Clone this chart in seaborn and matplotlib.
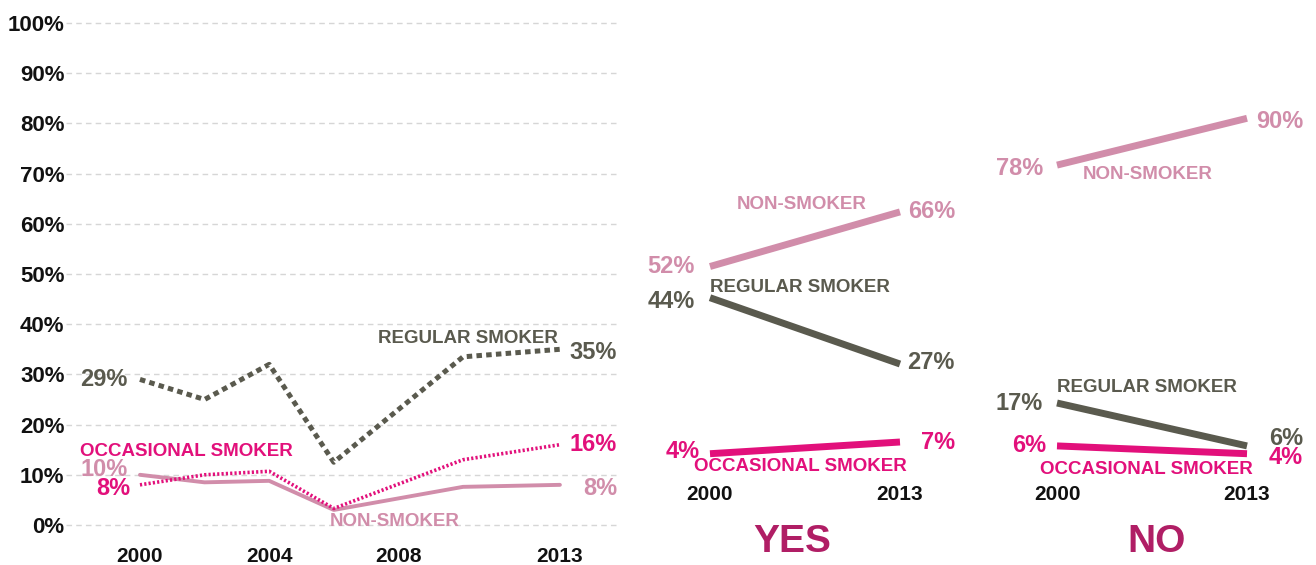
import matplotlib
matplotlib.use("Agg")
import matplotlib.pyplot as plt
import seaborn as sns
import pandas as pd

sns.set_theme(style="white")
plt.rcParams["font.family"] = ["Liberation Sans", "DejaVu Sans"]

# ---- data -------------------------------------------------------------
trend_years = [2000, 2002, 2004, 2006, 2010, 2013]
trend_regular = [29, 25, 32, 12.5, 33.5, 35]
trend_occasional = [8, 10, 10.7, 3.3, 13, 16]
trend_non = [10, 8.5, 8.8, 3, 7.6, 8]

slope_years = [2000, 2013]
yes_regular = [44, 27]
yes_occasional = [4, 7]
yes_non = [52, 66]
no_regular = [17, 6]
no_occasional = [6, 4]
no_non = [78, 90]

trend_xticks = [2000, 2004, 2008, 2013]
y_ticks = list(range(0, 101, 10))

# ---- style ------------------------------------------------------------
C_REG = "#5A5A4E"
C_OCC = "#E2107B"
C_NON = "#D18DAA"
C_TITLE = "#B01E65"
W, H = 1316, 565

fig = plt.figure(figsize=(W / 100, H / 100), dpi=100)


def add_axes_px(x0, y0, x1, y1):
    return fig.add_axes([x0 / W, 1 - y1 / H, (x1 - x0) / W, (y1 - y0) / H])


def series_frame(years, values):
    return pd.DataFrame({"year": years, "value": values})


def value_label(ax, x, y, text, color, dx, dy):
    ax.annotate(text, xy=(x, y), xytext=(dx, dy), textcoords="offset pixels",
                ha="right", va="center", fontsize=17, fontweight="bold",
                color=color, annotation_clip=False)


def name_label(ax, x, y, text, color, ha):
    ax.text(x, y, text, ha=ha, va="center", fontsize=13.5, fontweight="bold",
            color=color)


# ---- left: yearly trend ----------------------------------------------
ax = add_axes_px(66, 15, 620, 535)
ax.set_xlim(1997.71, 2014.86)
ax.set_ylim(-1.99, 101.59)

sns.lineplot(data=series_frame(trend_years, trend_regular), x="year", y="value",
             ax=ax, color=C_REG, lw=3.6, clip_on=False,
             solid_capstyle="butt").lines[-1].set_dashes((1.1, 0.85))
sns.lineplot(data=series_frame(trend_years, trend_non), x="year", y="value",
             ax=ax, color=C_NON, lw=2.8, clip_on=False)
occ = sns.lineplot(data=series_frame(trend_years, trend_occasional), x="year",
                   y="value", ax=ax, color=C_OCC, lw=2.6, clip_on=False)
occ.lines[-1].set_dashes((0.6, 0.6))

for yv in y_ticks:
    ax.axhline(yv, color="#D6D6D6", lw=1.0, ls=(0, (4, 3)), zorder=0)

ax.set_yticks(y_ticks)
ax.set_yticklabels([f"{v}%" for v in y_ticks])
ax.set_xticks(trend_xticks)
ax.set_xticklabels([str(v) for v in trend_xticks])
ax.tick_params(axis="y", length=0, pad=1, labelsize=16)
ax.tick_params(axis="x", length=0, pad=9, labelsize=15)
for lab in ax.get_xticklabels() + ax.get_yticklabels():
    lab.set_fontweight("bold")
    lab.set_color("#111111")
ax.set_xlabel("")
ax.set_ylabel("")
sns.despine(ax=ax, left=True, bottom=True)

value_label(ax, 2000, trend_regular[0], f"{trend_regular[0]}%", C_REG, -12, 0)
value_label(ax, 2013, trend_regular[-1], f"{trend_regular[-1]}%", C_REG, 57, -3)
value_label(ax, 2000, trend_non[0], f"{trend_non[0]}%", C_NON, -12, 5)
value_label(ax, 2000, trend_occasional[0], f"{trend_occasional[0]}%", C_OCC, -10, -4)
value_label(ax, 2013, trend_occasional[-1], f"{trend_occasional[-1]}%", C_OCC, 57, 0)
value_label(ax, 2013, trend_non[-1], f"{trend_non[-1]}%", C_NON, 57, -4)

name_label(ax, 2012.94, 37.25, "REGULAR SMOKER", C_REG, "right")
name_label(ax, 1998.14, 14.7, "OCCASIONAL SMOKER", C_OCC, "left")
name_label(ax, 2005.88, 0.6, "NON-SMOKER", C_NON, "left")


# ---- middle / right: 2000 vs 2013 slopes -----------------------------
def slope_panel(x0, x1, xlim, reg, occ_v, non, labels):
    a = add_axes_px(x0, 60, x1, 480)
    a.set_xlim(*xlim)
    a.set_ylim(-2.74, 104.95)
    for vals, col in ((non, C_NON), (reg, C_REG), (occ_v, C_OCC)):
        sns.lineplot(data=series_frame(slope_years, vals), x="year", y="value",
                     ax=a, color=col, lw=5, clip_on=False,
                     solid_capstyle="butt")
    a.set_yticks([])
    a.set_xticks(slope_years)
    a.set_xticklabels([str(v) for v in slope_years])
    a.tick_params(axis="x", length=0, pad=3.5, labelsize=15)
    for lab in a.get_xticklabels():
        lab.set_fontweight("bold")
        lab.set_color("#111111")
    a.set_xlabel("")
    a.set_ylabel("")
    sns.despine(ax=a, left=True, bottom=True)
    for (x, y, txt, col, dx, dy) in labels:
        value_label(a, x, y, txt, col, dx, dy)
    return a


yes_labels = [
    (2000, yes_non[0], f"{yes_non[0]}%", C_NON, -15, 0),
    (2000, yes_regular[0], f"{yes_regular[0]}%", C_REG, -15, -4),
    (2000, yes_occasional[0], f"{yes_occasional[0]}%", C_OCC, -10, 2),
    (2013, yes_non[1], f"{yes_non[1]}%", C_NON, 55, 0),
    (2013, yes_regular[1], f"{yes_regular[1]}%", C_REG, 55, 2),
    (2013, yes_occasional[1], f"{yes_occasional[1]}%", C_OCC, 55, 0),
]
ax_yes = slope_panel(650, 960, (1995.895, 2017.106),
                     yes_regular, yes_occasional, yes_non, yes_labels)
name_label(ax_yes, 2006.3, 67.8, "NON-SMOKER", C_NON, "center")
name_label(ax_yes, 2000.0, 46.7, "REGULAR SMOKER", C_REG, "left")
name_label(ax_yes, 2006.16, 0.6, "OCCASIONAL SMOKER", C_OCC, "center")

no_labels = [
    (2000, no_non[0], f"{no_non[0]}%", C_NON, -14, -3),
    (2000, no_regular[0], f"{no_regular[0]}%", C_REG, -14, 0),
    (2000, no_occasional[0], f"{no_occasional[0]}%", C_OCC, -11, 0),
    (2013, no_non[1], f"{no_non[1]}%", C_NON, 56, -3),
    (2013, no_regular[1], f"{no_regular[1]}%", C_REG, 56, 7),
    (2013, no_occasional[1], f"{no_occasional[1]}%", C_OCC, 56, -4),
]
ax_no = slope_panel(1000, 1316, (1996.1, 2017.72),
                    no_regular, no_occasional, no_non, no_labels)
name_label(ax_no, 2006.23, 75.7, "NON-SMOKER", C_NON, "center")
name_label(ax_no, 2000.0, 21.1, "REGULAR SMOKER", C_REG, "left")
name_label(ax_no, 2006.1, 0.0, "OCCASIONAL SMOKER", C_OCC, "center")

fig.text(792 / W, 1 - 542 / H, "YES", ha="center", va="center",
         fontsize=28, fontweight="bold", color=C_TITLE)
fig.text(1157 / W, 1 - 542 / H, "NO", ha="center", va="center",
         fontsize=28, fontweight="bold", color=C_TITLE)

fig.savefig("out.png", dpi=100, facecolor="white")
